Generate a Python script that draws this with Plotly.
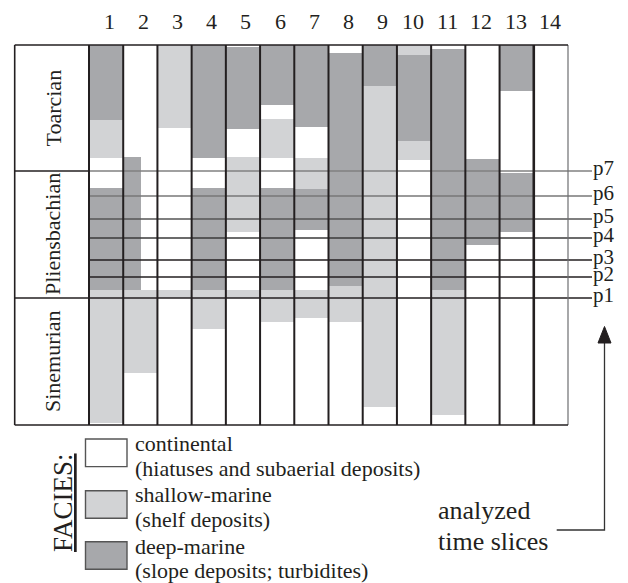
import plotly.graph_objects as go

# ---------------------------------------------------------------- data
# Sections 1-14; levels are counted upward from the base of the Sinemurian.
columns = list(range(1, 15))
column_labels = [str(c) for c in columns]

stage_names = ["Sinemurian", "Pliensbachian", "Toarcian"]
stage_bounds = [0, 127, 254, 380]

slice_names = ["p1", "p2", "p3", "p4", "p5", "p6", "p7"]
slice_levels = [127, 148, 165, 187, 206, 229, 254]

# shallow-marine intervals (shelf deposits)
shallow_col = [1, 1, 2, 3, 3, 4, 5, 5, 6, 6, 7, 7, 8, 9, 10, 10, 11]
shallow_base = [267, 2, 52, 297, 127, 96, 193, 127, 267, 103, 236, 107, 103, 18, 370, 265, 10]
shallow_top = [305, 135, 135, 380, 135, 135, 268, 135, 306, 135, 267, 135, 139, 339, 380, 284, 135]

# deep-marine intervals (slope deposits, turbidites); section 2 is only partly deep-marine
deep_col = [1, 1, 2, 4, 4, 5, 6, 6, 7, 7, 8, 9, 10, 11, 12, 13, 13]
deep_base = [305, 135, 135, 267, 135, 296, 320, 135, 298, 195, 139, 339, 284, 135, 180, 334, 193]
deep_top = [380, 237, 268, 380, 237, 378, 380, 237, 380, 236, 372, 380, 370, 376, 266, 380, 252]
deep_span = [1, 1, 0.52, 1, 1, 1, 1, 1, 1, 1, 1, 1, 1, 1, 1, 1, 1]

facies_names = ["continental", "shallow-marine", "deep-marine"]
facies_notes = ["(hiatuses and subaerial deposits)", "(shelf deposits)",
                "(slope deposits; turbidites)"]

# ---------------------------------------------------------------- style
FONT = "Liberation Serif"
INK = "#231f20"
WHITE = "#ffffff"
LIGHT = "#d2d3d5"
DARK = "#a7a8ab"
facies_colors = [WHITE, LIGHT, DARK]
slice_colors = ["#231f20", "#231f20", "#231f20", "#3a3a3a", "#555555", "#777777", "#808080"]

W, H = 628, 583
L, R, T, B = 89, 60, 45, 158
PW, PH = W - L - R, H - T - B


def px(x):
    """page x in pixels -> paper x"""
    return (x - L) / PW


def py(y):
    """page y in pixels -> paper y"""
    return (H - B - y) / PH


fig = go.Figure()

# continental facies fills every section where no marine deposit is recorded
fig.add_trace(go.Bar(
    x=columns, base=[stage_bounds[0]] * len(columns),
    y=[stage_bounds[-1] - stage_bounds[0]] * len(columns),
    width=1, offset=-0.5, marker=dict(color=WHITE, line=dict(width=0)),
    name=facies_names[0], showlegend=False, hoverinfo="skip"))

fig.add_trace(go.Bar(
    x=shallow_col, base=shallow_base,
    y=[t - b for t, b in zip(shallow_top, shallow_base)],
    width=1, offset=-0.5, marker=dict(color=LIGHT, line=dict(width=0)),
    name=facies_names[1], showlegend=False))

fig.add_trace(go.Bar(
    x=deep_col, base=deep_base,
    y=[t - b for t, b in zip(deep_top, deep_base)],
    width=deep_span, offset=[-0.5] * len(deep_col),
    marker=dict(color=DARK, line=dict(width=0)),
    name=facies_names[2], showlegend=False))

shapes = []
annotations = []

# time-slice lines and their labels
for name, lev, col in zip(slice_names, slice_levels, slice_colors):
    shapes.append(dict(type="line", xref="paper", yref="y", x0=0, x1=px(592),
                       y0=lev, y1=lev, line=dict(color=col, width=1.3)))
    annotations.append(dict(xref="paper", yref="y", x=px(592), y=lev, yshift=3,
                            text=name, showarrow=False, xanchor="left", yanchor="middle",
                            borderpad=0,
                            font=dict(family=FONT, size=21, color=INK)))

# section borders
for k in range(len(columns) + 1):
    w, c = 2, INK
    if k == len(columns) - 1:
        w = 2.6
    if k == len(columns):
        w, c = 1.2, "#6d6e71"
    shapes.append(dict(type="line", xref="paper", yref="paper", x0=k / len(columns),
                       x1=k / len(columns), y0=0, y1=1, line=dict(color=c, width=w)))

# stage column frame
left_edge = px(14.7)
for yy in (0, 1):
    shapes.append(dict(type="line", xref="paper", yref="paper", x0=left_edge, x1=1,
                       y0=yy, y1=yy, line=dict(color=INK, width=1.6)))
shapes.append(dict(type="line", xref="paper", yref="paper", x0=left_edge, x1=left_edge,
                   y0=0, y1=1, line=dict(color=INK, width=1.6)))
for lev in stage_bounds[1:-1]:
    shapes.append(dict(type="line", xref="paper", yref="y", x0=left_edge, x1=0,
                       y0=lev, y1=lev, line=dict(color=INK, width=1.6)))
for name, lo, hi in zip(stage_names, stage_bounds[:-1], stage_bounds[1:]):
    annotations.append(dict(xref="paper", yref="y", x=px(52.5), y=(lo + hi) / 2,
                            text=name, textangle=-90, showarrow=False,
                            xanchor="center", yanchor="middle",
                            font=dict(family=FONT, size=22, color=INK)))

# section numbers
for c, lab in zip(columns, column_labels):
    annotations.append(dict(xref="x", yref="paper", x=c, y=py(21.9), text=lab,
                            xshift=3 if len(lab) == 1 else -1, showarrow=False,
                            xanchor="center", yanchor="middle",
                            font=dict(family=FONT, size=22, color=INK)))

# facies key
box_tops = [439, 490.7, 541.7]
for name, note, col, top in zip(facies_names, facies_notes, facies_colors, box_tops):
    shapes.append(dict(type="rect", xref="paper", yref="paper", x0=px(85.5), x1=px(127),
                       y0=py(top), y1=py(top + 27.6), fillcolor=col,
                       line=dict(color="#555555", width=1.4)))
    annotations.append(dict(xref="paper", yref="paper", x=px(134), y=py(top + 4.3),
                            text=name, showarrow=False, xanchor="left", yanchor="middle",
                            borderpad=0,
                            font=dict(family=FONT, size=22, color=INK)))
    annotations.append(dict(xref="paper", yref="paper", x=px(134), y=py(top + 29),
                            text=note, showarrow=False, xanchor="left", yanchor="middle",
                            borderpad=0,
                            font=dict(family=FONT, size=22, color=INK)))
annotations.append(dict(xref="paper", yref="paper", x=px(63), y=py(503),
                        text="<u>FACIES:</u>", textangle=-90, showarrow=False,
                        xanchor="center", yanchor="middle",
                        font=dict(family=FONT, size=27, color=INK)))

# pointer to the time slices
shapes.append(dict(type="path", xref="paper", yref="paper",
                   path=f"M {px(556.7)} {py(530)} L {px(604.5)} {py(530)} L {px(604.5)} {py(342)}",
                   line=dict(color="#333333", width=1.3)))
shapes.append(dict(type="path", xref="paper", yref="paper",
                   path=f"M {px(598)} {py(343)} L {px(604.5)} {py(326.5)} L {px(611)} {py(343)} Z",
                   fillcolor=INK, line=dict(color=INK, width=1)))
annotations.append(dict(xref="paper", yref="paper", x=px(436), y=py(510.4),
                        text="analyzed", showarrow=False, xanchor="left", yanchor="middle",
                        font=dict(family=FONT, size=26, color=INK)))
annotations.append(dict(xref="paper", yref="paper", x=px(436), y=py(541.4),
                        text="time slices", showarrow=False, xanchor="left", yanchor="middle",
                        font=dict(family=FONT, size=26, color=INK)))

fig.update_layout(
    width=W, height=H, margin=dict(l=L, r=R, t=T, b=B),
    paper_bgcolor="white", plot_bgcolor="white",
    barmode="overlay", bargap=0, showlegend=False,
    xaxis=dict(range=[0.5, 14.5], visible=False, fixedrange=True),
    yaxis=dict(range=[stage_bounds[0], stage_bounds[-1]], visible=False, fixedrange=True),
    shapes=shapes, annotations=annotations,
)

fig.write_html("out.html")
